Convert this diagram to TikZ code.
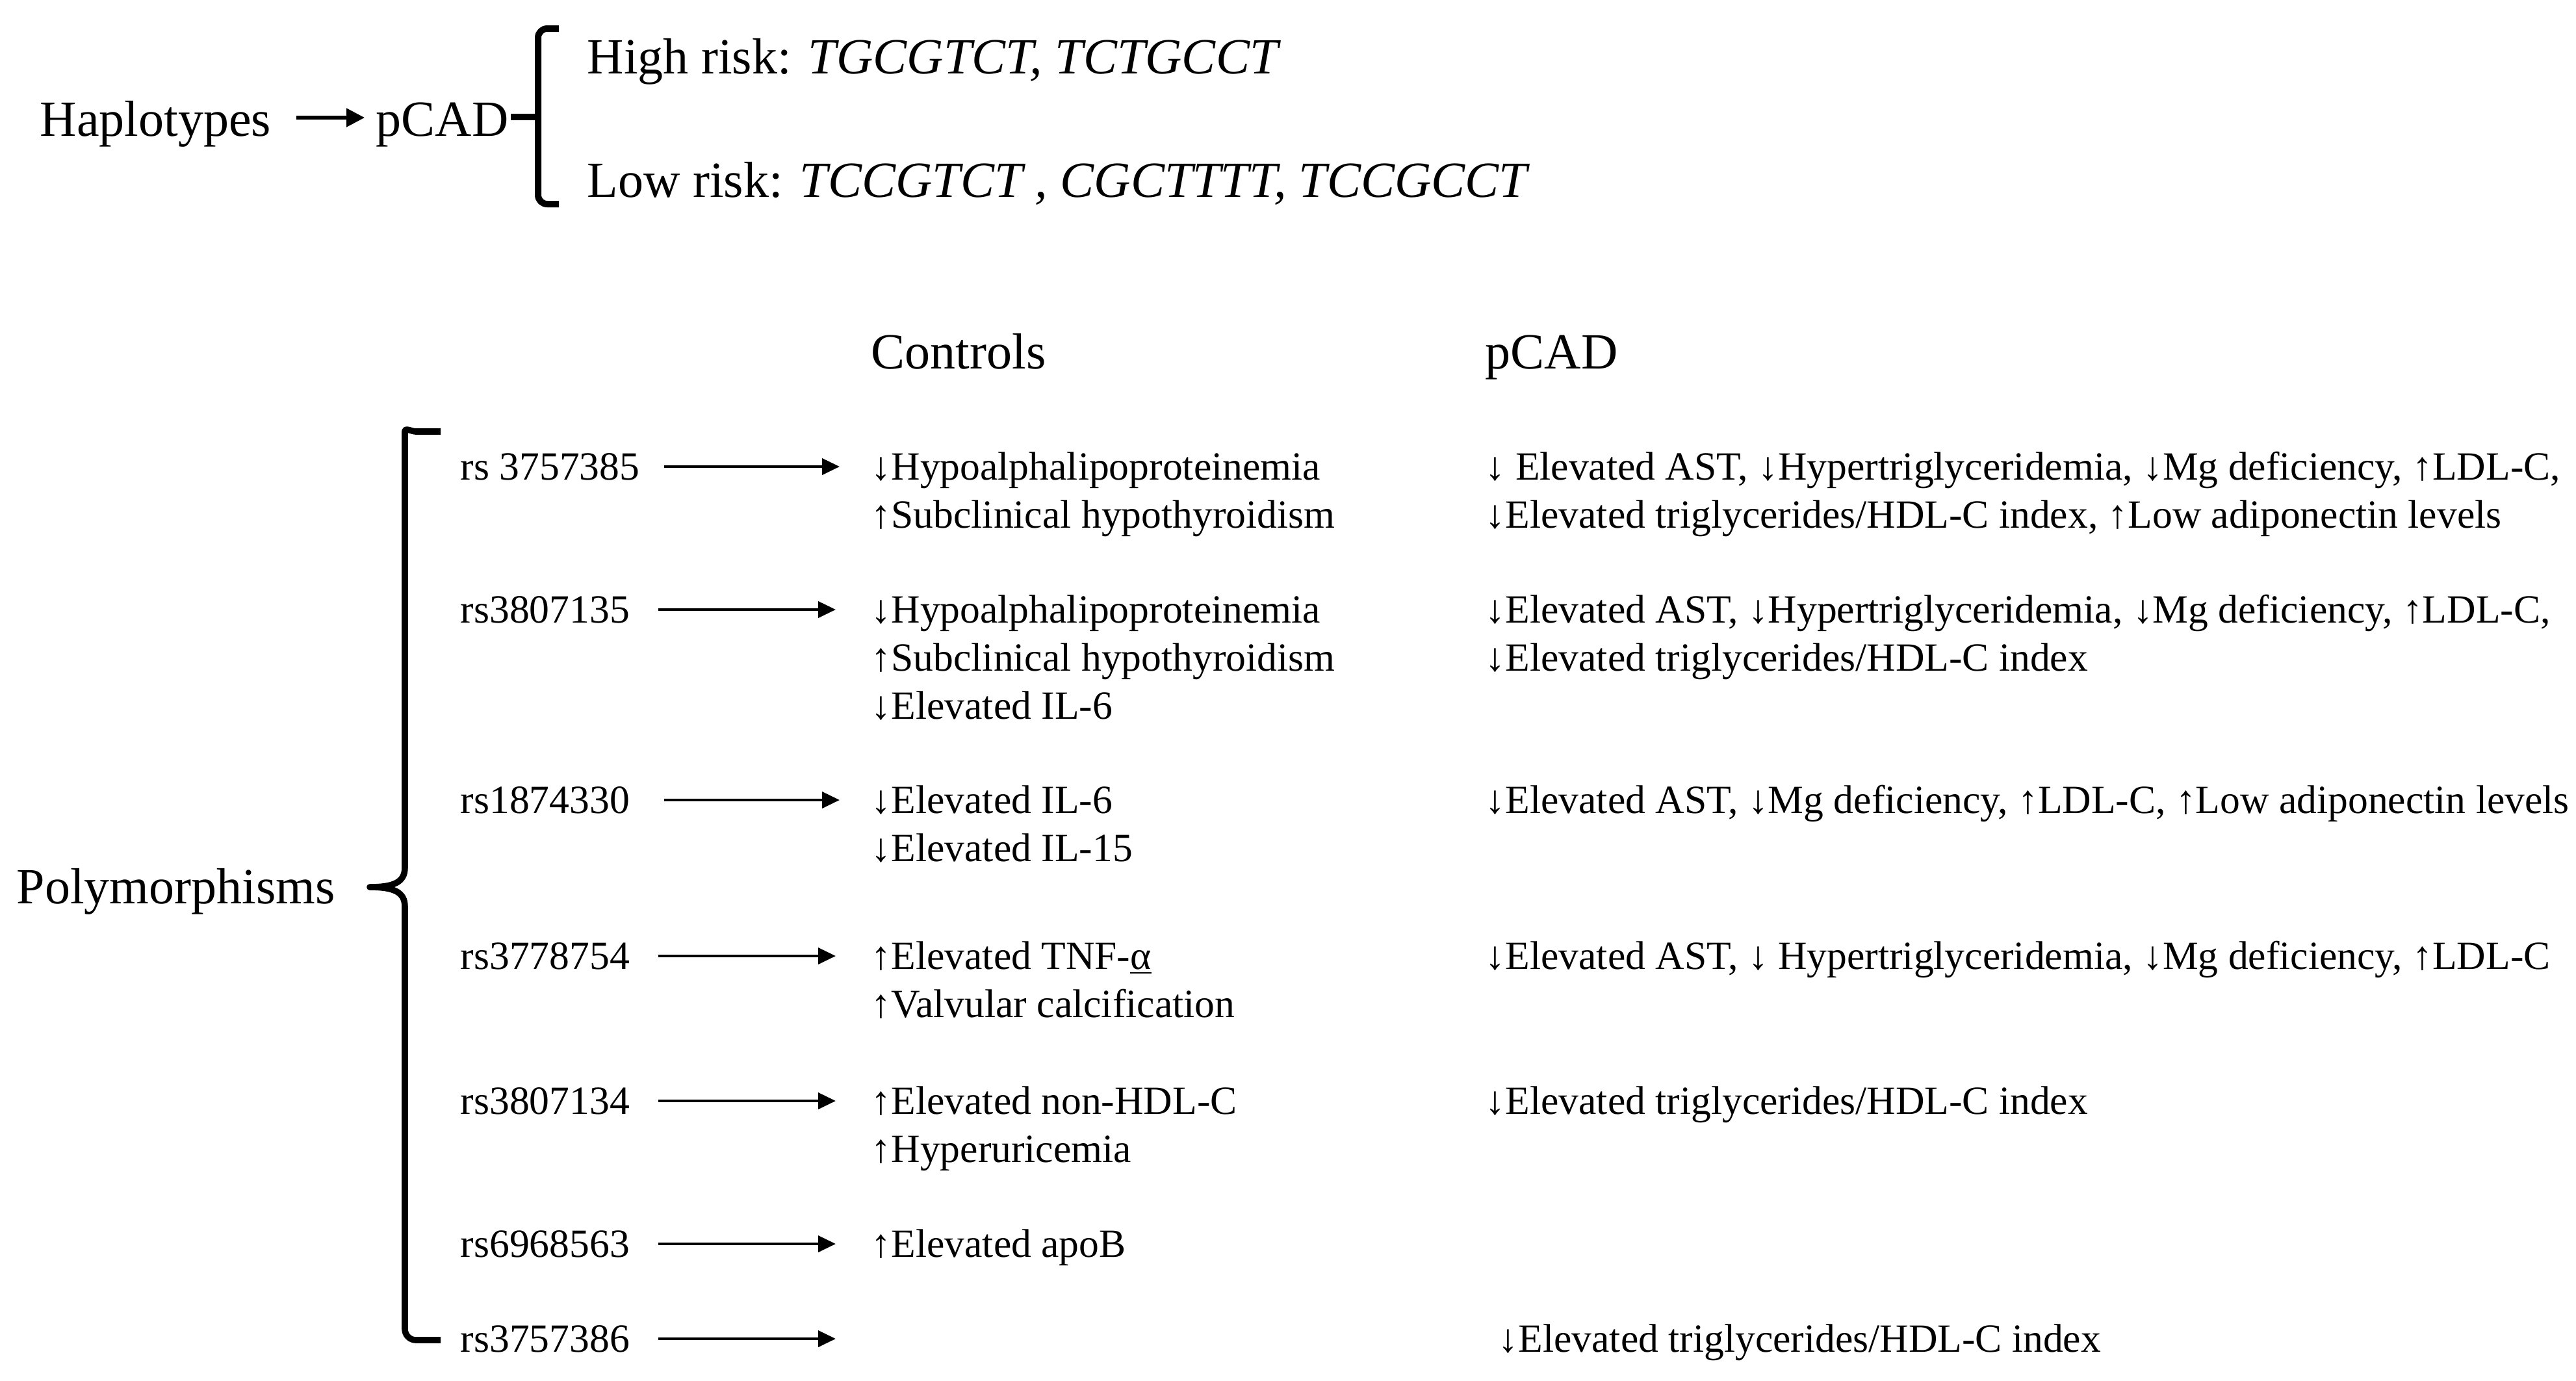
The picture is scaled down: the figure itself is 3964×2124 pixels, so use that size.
\documentclass[tikz,border=0pt]{standalone}
\usepackage{fontspec}
\setmainfont{Liberation Serif}
\usetikzlibrary{arrows.meta}
\begin{document}
\begin{tikzpicture}[x=0.25pt,y=-0.25pt,
  body/.style={anchor=base west, inner sep=0pt, font=\fontsize{15.4pt}{18.5pt}\selectfont},
  big/.style={anchor=base west, inner sep=0pt, font=\fontsize{19.5pt}{23pt}\selectfont},
  conn/.style={-{Triangle[length=6.75pt,width=6.25pt]}, line width=1pt},
  topconn/.style={-{Triangle[length=7pt,width=7pt]}, line width=1.3pt},
  bracestyle/.style={line width=2.5pt, line join=round, rounded corners=3.5pt}]
\useasboundingbox (0,0) rectangle (3964,2124);

% ---------- top part ----------
\node[big] (hap) at (61,209) {Haplotypes};
\node[big] (pcadtop) at (578,209) {pCAD};
\coordinate (ha1) at (456,181);
\coordinate (ha2) at (561,181);
\draw[topconn] (ha1) -- (ha2);
\coordinate (tb1) at (860,44);
\coordinate (tb2) at (828,44);
\coordinate (tb3) at (828,314);
\coordinate (tb4) at (860,314);
\draw[bracestyle] (tb1) -- (tb2) -- (tb3) -- (tb4);
\coordinate (tt1) at (786,180);
\coordinate (tt2) at (828,180);
\draw[line width=2.5pt] (tt1) -- (tt2);
\node[big] (high) at (903,113) {High risk: \textit{TGCGTCT, TCTGCCT}};
\node[big] (low) at (903,303) {Low risk: \textit{TCCGTCT , CGCTTTT, TCCGCCT}};

% ---------- headers ----------
\node[big] (hctrl) at (1340,567) {Controls};
\node[big] (hpcad) at (2285,567) {pCAD};

% ---------- polymorphisms brace ----------
\node[big] (poly) at (25,1390) {Polymorphisms};
\coordinate (b1) at (678,664);
\coordinate (b2) at (623,664);
\coordinate (b3) at (623,1335);
\coordinate (bm) at (569,1365);
\coordinate (b4) at (623,1395);
\coordinate (b5) at (623,2062);
\coordinate (b6) at (678,2062);
\draw[line width=2.4pt, line join=round]
  (b1) -- (640,664) to[out=180,in=90] (b2) -- (b3)
  .. controls (623,1358) and (605,1365) .. (bm)
  .. controls (605,1365) and (623,1372) .. (b4)
  -- (623,2045) to[out=270,in=180] (640,2062) -- (b6);

% ---------- rs labels ----------
\node[body] (r1) at (708,738) {rs 3757385};
\node[body] (r2) at (708,958) {rs3807135};
\node[body] (r3) at (708,1251) {rs1874330};
\node[body] (r4) at (708,1491) {rs3778754};
\node[body] (r5) at (708,1714) {rs3807134};
\node[body] (r6) at (708,1934) {rs6968563};
\node[body] (r7) at (708,2080) {rs3757386};

% ---------- arrows ----------
\coordinate (a1s) at (1022,718);  \coordinate (a1e) at (1292,718);
\coordinate (a2s) at (1013,938);  \coordinate (a2e) at (1286,938);
\coordinate (a3s) at (1022,1231); \coordinate (a3e) at (1292,1231);
\coordinate (a4s) at (1013,1471); \coordinate (a4e) at (1286,1471);
\coordinate (a5s) at (1013,1694); \coordinate (a5e) at (1286,1694);
\coordinate (a6s) at (1013,1914); \coordinate (a6e) at (1286,1914);
\coordinate (a7s) at (1013,2060); \coordinate (a7e) at (1286,2060);
\draw[conn] (a1s) -- (a1e);
\draw[conn] (a2s) -- (a2e);
\draw[conn] (a3s) -- (a3e);
\draw[conn] (a4s) -- (a4e);
\draw[conn] (a5s) -- (a5e);
\draw[conn] (a6s) -- (a6e);
\draw[conn] (a7s) -- (a7e);

% ---------- controls column ----------
\node[body] (c1a) at (1340,738) {↓Hypoalphalipoproteinemia};
\node[body] (c1b) at (1340,812) {↑Subclinical hypothyroidism};
\node[body] (c2a) at (1340,958) {↓Hypoalphalipoproteinemia};
\node[body] (c2b) at (1340,1032) {↑Subclinical hypothyroidism};
\node[body] (c2c) at (1340,1106) {↓Elevated IL-6};
\node[body] (c3a) at (1340,1251) {↓Elevated IL-6};
\node[body] (c3b) at (1340,1325) {↓Elevated IL-15};
\node[body] (c4a) at (1340,1491) {↑Elevated TNF-\underline{α}};
\node[body] (c4b) at (1340,1565) {↑Valvular calcification};
\node[body] (c5a) at (1340,1714) {↑Elevated non-HDL-C};
\node[body] (c5b) at (1340,1788) {↑Hyperuricemia};
\node[body] (c6a) at (1340,1934) {↑Elevated apoB};

% ---------- pCAD column ----------
\node[body] (p1a) at (2285,738) {↓ Elevated AST, ↓Hypertriglyceridemia, ↓Mg deficiency, ↑LDL-C,};
\node[body] (p1b) at (2285,812) {↓Elevated triglycerides/HDL-C index, ↑Low adiponectin levels};
\node[body] (p2a) at (2285,958) {↓Elevated AST, ↓Hypertriglyceridemia, ↓Mg deficiency, ↑LDL-C,};
\node[body] (p2b) at (2285,1032) {↓Elevated triglycerides/HDL-C index};
\node[body] (p3a) at (2285,1251) {↓Elevated AST, ↓Mg deficiency, ↑LDL-C, ↑Low adiponectin levels};
\node[body] (p4a) at (2285,1491) {↓Elevated AST, ↓ Hypertriglyceridemia, ↓Mg deficiency, ↑LDL-C};
\node[body] (p5a) at (2285,1714) {↓Elevated triglycerides/HDL-C index};
\node[body] (p7a) at (2305,2080) {↓Elevated triglycerides/HDL-C index};
\end{tikzpicture}
\end{document}
